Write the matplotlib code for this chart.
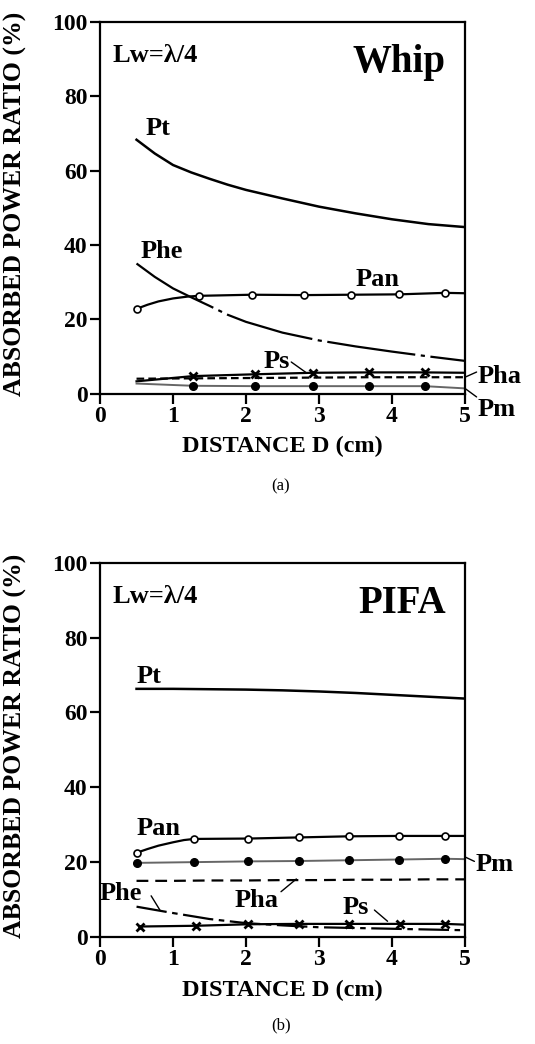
import matplotlib
matplotlib.use("Agg")
import matplotlib.pyplot as plt

plt.rcParams['font.family'] = ['Liberation Serif', 'DejaVu Serif']
plt.rcParams['font.weight'] = 'bold'
plt.rcParams['lines.scale_dashes'] = False

# distance grids for the smooth curves (cm)
D = [0.5, 1.0, 1.5, 2.0, 2.5, 3.0, 3.5, 4.0, 4.5, 5.0]
D_fine = [0.5, 0.75, 1.0, 1.25, 1.5, 1.75, 2.0, 2.5, 3.0, 3.5, 4.0, 4.5, 5.0]

# (a) whip antenna
whip_pt = [68.3, 64.6, 61.5, 59.5, 57.8, 56.2, 54.8, 52.5, 50.3, 48.5, 46.9, 45.6, 44.8]
whip_phe = [35.0, 31.4, 28.3, 25.9, 23.6, 21.2, 19.3, 16.4, 14.3, 12.7, 11.3, 10.0, 8.8]
whip_pan_d = [0.5, 0.65, 0.8, 1.0, 1.2, 1.35, 2.08, 2.79, 3.44, 4.1, 4.73, 5.0]
whip_pan = [22.8, 23.9, 24.8, 25.6, 26.1, 26.3, 26.6, 26.5, 26.6, 26.7, 27.1, 27.0]
whip_pan_marks = [0, 5, 6, 7, 8, 9, 10]
whip_mark_d = [0.5, 1.27, 2.13, 2.92, 3.68, 4.45, 5.0]
whip_ps = [3.3, 4.7, 5.2, 5.6, 5.7, 5.7, 5.6]
whip_pm = [2.7, 2.1, 2.0, 2.0, 2.0, 2.0, 1.4]
whip_pha = [4.0, 4.1, 4.2, 4.3, 4.4, 4.4, 4.4]
whip_marks = [1, 2, 3, 4, 5]

# (b) PIFA
pifa_pt = [66.3, 66.3, 66.2, 66.1, 65.9, 65.6, 65.2, 64.7, 64.2, 63.7]
pifa_phe = [8.1, 6.4, 4.8, 3.7, 3.1, 2.6, 2.4, 2.2, 2.0, 1.8]
pifa_pha = [15.0, 15.0, 15.1, 15.1, 15.2, 15.2, 15.3, 15.3, 15.4, 15.4]
pifa_pan_d = [0.5, 0.65, 0.8, 1.0, 1.15, 1.29, 2.03, 2.72, 3.41, 4.09, 4.73, 5.0]
pifa_pan = [22.5, 23.5, 24.4, 25.3, 25.9, 26.2, 26.3, 26.6, 26.9, 27.0, 27.0, 27.0]
pifa_pan_marks = [0, 5, 6, 7, 8, 9, 10]
pifa_pm_d = [0.5, 1.29, 2.03, 2.72, 3.41, 4.09, 4.73, 5.0]
pifa_pm = [19.8, 20.0, 20.2, 20.3, 20.5, 20.7, 20.9, 20.8]
pifa_ps_d = [0.55, 1.32, 2.03, 2.73, 3.41, 4.11, 4.73, 5.0]
pifa_ps = [2.8, 3.0, 3.4, 3.5, 3.5, 3.5, 3.5, 3.3]
pifa_marks = [0, 1, 2, 3, 4, 5, 6]

xticks = [0, 1, 2, 3, 4, 5]
yticks = [0, 20, 40, 60, 80, 100]

LBL = 19  # curve label size

fig = plt.figure(figsize=(5.35, 10.44), dpi=100)
ax1 = fig.add_axes([0.187, 0.623, 0.682, 0.356])
ax2 = fig.add_axes([0.187, 0.1025, 0.682, 0.3585])


def style_axes(ax, name):
    ax.set_xlim(0, 5)
    ax.set_ylim(0, 100)
    ax.set_xticks(xticks)
    ax.set_yticks(yticks)
    for s in ax.spines.values():
        s.set_linewidth(1.6)
    ax.tick_params(direction='out', length=7, width=1.6, labelsize=17, pad=2)
    ax.set_xlabel('DISTANCE D (cm)', fontsize=17.5, fontweight='bold')
    ax.set_ylabel('ABSORBED POWER RATIO (%)', fontsize=18.5, fontweight='bold')
    ax.xaxis.set_label_coords(0.5, -0.115)
    ax.yaxis.set_label_coords(-0.2, 0.51)
    ax.text(0.035, 0.892, 'Lw=λ/4', transform=ax.transAxes, fontsize=19,
            fontweight='bold', va='baseline')
    ax.text(0.948, 0.865, name, transform=ax.transAxes, fontsize=28,
            fontweight='bold', ha='right', va='baseline')


def leader(ax, p0, p1):
    ax.annotate('', xy=p1, xytext=p0, annotation_clip=False,
                arrowprops=dict(arrowstyle='-', lw=1.0, color='black',
                                shrinkA=0, shrinkB=0))


# ---- (a) Whip ----
style_axes(ax1, 'Whip')
ax1.plot(D_fine, whip_pt, color='black', lw=1.8)
ax1.plot(D_fine, whip_phe, color='black', lw=1.6, dashes=(64, 4, 3, 4))
ax1.plot(whip_pan_d, whip_pan, color='black', lw=1.6, marker='o',
         markevery=whip_pan_marks, ms=5, mfc='white', mew=1.2)
ax1.plot(whip_mark_d, whip_pha, color='black', lw=1.6, dashes=(5.5, 3))
ax1.plot(whip_mark_d, whip_ps, color='black', lw=1.6, marker='x',
         markevery=whip_marks, ms=5.5, mew=2.0)
ax1.plot(whip_mark_d, whip_pm, color='0.4', lw=1.4, marker='o',
         markevery=whip_marks, ms=5.5, mfc='black', mec='black')

ax1.text(0.62, 69.5, 'Pt', fontsize=LBL, fontweight='bold')
ax1.text(0.56, 36.6, 'Phe', fontsize=LBL, fontweight='bold')
ax1.text(3.5, 29.0, 'Pan', fontsize=LBL, fontweight='bold')
ax1.text(2.24, 7.0, 'Ps', fontsize=LBL, fontweight='bold')
leader(ax1, (2.62, 8.5), (2.82, 5.7))
ax1.text(5.17, 2.9, 'Pha', fontsize=LBL, fontweight='bold', clip_on=False)
leader(ax1, (5.0, 4.4), (5.16, 5.8))
ax1.text(5.18, -6.0, 'Pm', fontsize=LBL, fontweight='bold', clip_on=False)
leader(ax1, (5.0, 1.4), (5.16, -0.9))
fig.text(0.525, 0.534, '(a)', fontsize=12, fontweight='normal',
         ha='center', va='center')

# ---- (b) PIFA ----
style_axes(ax2, 'PIFA')
ax2.plot(D, pifa_pt, color='black', lw=1.8)
ax2.plot(pifa_pan_d, pifa_pan, color='black', lw=1.6, marker='o',
         markevery=pifa_pan_marks, ms=5, mfc='white', mew=1.2)
ax2.plot(pifa_pm_d, pifa_pm, color='0.4', lw=1.4, marker='o',
         markevery=pifa_marks, ms=5.5, mfc='black', mec='black')
ax2.plot(D, pifa_pha, color='black', lw=1.6, dashes=(8.5, 5))
ax2.plot(D, pifa_phe, color='black', lw=1.6, dashes=(22, 4, 4, 4))
ax2.plot(pifa_ps_d, pifa_ps, color='black', lw=1.6, marker='x',
         markevery=pifa_marks, ms=5.5, mew=2.0)

ax2.text(0.5, 67.8, 'Pt', fontsize=LBL, fontweight='bold')
ax2.text(0.5, 27.3, 'Pan', fontsize=LBL, fontweight='bold')
ax2.text(5.15, 17.7, 'Pm', fontsize=LBL, fontweight='bold', clip_on=False)
leader(ax2, (5.0, 21.4), (5.13, 20.2))
ax2.text(1.85, 7.9, 'Pha', fontsize=LBL, fontweight='bold')
leader(ax2, (2.48, 12.1), (2.69, 15.5))
ax2.text(0.0, 9.8, 'Phe', fontsize=LBL, fontweight='bold')
leader(ax2, (0.7, 11.0), (0.82, 7.2))
ax2.text(3.33, 6.1, 'Ps', fontsize=LBL, fontweight='bold')
leader(ax2, (3.76, 7.2), (3.94, 4.2))
fig.text(0.525, 0.018, '(b)', fontsize=12, fontweight='normal',
         ha='center', va='center')

fig.savefig('out.png', dpi=100)
